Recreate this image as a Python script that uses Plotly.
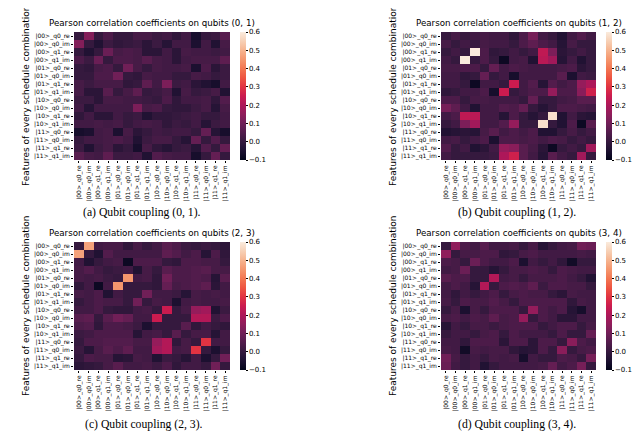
import numpy as np
import plotly.graph_objects as go

features = ["|00>_q0_re", "|00>_q0_im", "|00>_q1_re", "|00>_q1_im",
            "|01>_q0_re", "|01>_q0_im", "|01>_q1_re", "|01>_q1_im",
            "|10>_q0_re", "|10>_q0_im", "|10>_q1_re", "|10>_q1_im",
            "|11>_q0_re", "|11>_q0_im", "|11>_q1_re", "|11>_q1_im"]

# upper triangles: row i holds columns i+1..15
# (matrices are symmetric, diagonal is shown as 0)
upper_01 = [
    [0.13, 0.0, 0.04, 0.0, 0.0, 0.03, 0.03, 0.01, 0.02, -0.01, 0.02, -0.06, 0.0, 0.01, 0.06],
    [-0.04, 0.01, -0.01, 0.0, 0.01, -0.02, 0.01, -0.03, 0.02, 0.02, -0.05, 0.02, -0.04, 0.03],
    [0.09, 0.03, 0.04, 0.03, -0.02, -0.02, 0.02, -0.02, 0.03, 0.02, 0.02, 0.01, 0.02],
    [0.04, 0.04, 0.03, 0.06, 0.03, 0.02, -0.02, 0.02, 0.03, 0.03, 0.03, 0.07],
    [0.10, 0.03, 0.0, 0.03, 0.02, 0.02, 0.03, -0.05, 0.04, -0.02, 0.01],
    [-0.01, 0.03, 0.02, 0.02, 0.0, 0.0, 0.03, 0.02, 0.0, 0.01],
    [0.07, 0.02, 0.12, 0.01, 0.02, -0.02, -0.04, -0.06, 0.02],
    [0.01, 0.03, -0.04, 0.03, 0.0, 0.01, 0.03, -0.04],
    [0.04, -0.01, 0.02, 0.02, 0.03, -0.01, 0.05],
    [-0.01, -0.01, 0.01, 0.03, -0.03, 0.03],
    [0.01, 0.02, 0.0, 0.0, 0.02],
    [0.02, -0.03, 0.01, 0.02],
    [0.08, -0.03, -0.06],
    [0.05, 0.0],
    [0.08],
]

upper_12 = [
    [0.03, 0.0, 0.02, 0.03, 0.02, 0.02, -0.01, 0.04, 0.11, 0.02, 0.0, -0.04, 0.02, 0.05, 0.02],
    [0.02, 0.0, 0.03, 0.02, 0.02, 0.0, 0.04, 0.07, 0.04, 0.02, -0.03, 0.03, 0.0, 0.0],
    [0.60, 0.04, -0.01, 0.0, 0.02, 0.0, 0.02, 0.23, 0.12, -0.02, 0.0, 0.02, 0.0],
    [0.04, 0.0, -0.08, 0.02, 0.03, -0.04, 0.22, 0.18, -0.03, 0.02, -0.04, 0.0],
    [0.08, 0.02, 0.04, 0.03, 0.02, 0.02, 0.02, 0.03, 0.04, -0.02, 0.0],
    [0.02, -0.06, 0.02, 0.02, 0.02, 0.02, 0.06, -0.05, 0.02, 0.01],
    [0.25, 0.02, 0.05, -0.03, 0.05, 0.02, 0.04, 0.16, 0.20],
    [0.02, 0.04, 0.04, 0.16, 0.04, 0.04, 0.14, 0.26],
    [0.08, 0.0, 0.0, 0.02, 0.03, 0.06, 0.06],
    [-0.03, 0.0, 0.04, 0.04, 0.03, 0.02],
    [0.58, -0.04, 0.02, -0.02, -0.03],
    [-0.04, 0.04, -0.08, 0.06],
    [0.03, 0.0, 0.02],
    [0.02, 0.0],
    [0.18],
]

upper_23 = [
    [0.47, 0.02, 0.03, 0.03, -0.01, 0.03, 0.0, 0.02, 0.06, 0.04, 0.01, 0.0, 0.01, 0.0, -0.02],
    [-0.04, 0.05, 0.02, 0.02, 0.02, 0.02, 0.02, 0.07, 0.05, 0.02, 0.04, -0.03, 0.04, -0.01],
    [0.02, 0.03, -0.08, 0.04, 0.04, 0.04, 0.0, -0.01, 0.04, 0.04, 0.03, 0.03, 0.0],
    [0.01, 0.02, -0.04, 0.03, 0.0, 0.06, 0.04, 0.04, 0.05, 0.06, 0.03, 0.03],
    [0.45, 0.02, 0.03, -0.01, 0.10, 0.04, 0.04, 0.05, 0.04, -0.03, 0.06],
    [0.0, 0.0, -0.01, 0.08, 0.03, 0.04, 0.05, 0.07, -0.02, 0.02],
    [0.10, 0.02, 0.02, 0.01, -0.03, 0.03, 0.02, 0.03, 0.02],
    [0.03, 0.02, -0.05, 0.02, 0.03, 0.02, 0.02, 0.03],
    [0.25, 0.0, 0.03, 0.16, 0.18, -0.04, 0.01],
    [0.0, 0.0, 0.21, 0.21, 0.01, 0.04],
    [0.06, -0.01, 0.02, 0.0, -0.01],
    [0.03, 0.03, -0.03, 0.02],
    [0.30, 0.02, 0.02],
    [-0.05, 0.0],
    [0.10],
]

upper_34 = [
    [0.15, 0.04, 0.02, 0.06, 0.02, 0.02, 0.03, 0.0, 0.03, -0.03, 0.0, 0.02, 0.03, 0.10, 0.09],
    [0.03, 0.03, 0.04, 0.04, -0.01, 0.0, 0.03, 0.04, 0.02, 0.02, 0.02, 0.02, 0.03, 0.02],
    [0.09, 0.04, 0.02, 0.02, 0.04, -0.05, 0.02, 0.0, 0.02, -0.01, -0.07, 0.0, 0.0],
    [0.0, -0.03, 0.0, 0.03, 0.03, 0.04, 0.03, 0.0, 0.04, 0.03, 0.02, 0.02],
    [0.21, 0.02, 0.03, 0.0, 0.03, 0.03, 0.03, 0.04, 0.02, 0.0, -0.04],
    [0.04, 0.05, 0.04, 0.07, 0.01, 0.04, 0.04, 0.03, 0.03, 0.0],
    [0.03, 0.04, 0.03, 0.03, 0.0, -0.02, 0.03, 0.02, 0.02],
    [0.04, 0.04, 0.04, 0.04, 0.04, -0.01, 0.03, 0.02],
    [0.16, 0.04, 0.02, 0.04, -0.03, -0.06, 0.02],
    [0.04, 0.02, -0.02, -0.02, 0.02, 0.02],
    [0.02, 0.04, 0.04, 0.0, 0.03],
    [0.04, 0.0, 0.0, 0.08],
    [0.14, 0.04, 0.02],
    [0.03, 0.04],
    [0.11],
]

couplings = ["(0, 1)", "(1, 2)", "(2, 3)", "(3, 4)"]
letters = ["a", "b", "c", "d"]
cbar_ticks = [-0.1, 0.0, 0.1, 0.2, 0.3, 0.4, 0.5, 0.6]

# seaborn "rocket"
rocket = [[0.0, "#03051a"], [1 / 14, "#1c1030"], [1 / 7, "#35193e"], [3 / 14, "#521c4c"],
          [2 / 7, "#701f57"], [5 / 14, "#8f1d5b"], [3 / 7, "#ad1759"], [1 / 2, "#cb1b4f"],
          [4 / 7, "#e13342"], [9 / 14, "#ee5541"], [5 / 7, "#f37651"], [11 / 14, "#f5966d"],
          [6 / 7, "#f6b48f"], [13 / 14, "#f7d0b5"], [1.0, "#faebdd"]]


def full_matrix(upper):
    m = np.zeros((16, 16))
    for i, row in enumerate(upper):
        for k, v in enumerate(row):
            m[i, i + 1 + k] = v
            m[i + 1 + k, i] = v
    return m


W, H = 640, 436
px = lambda v: v / W
py = lambda v: 1 - v / H

# panel boxes in pixels: heatmap left, right, top, bottom
boxes = [(66, 222, 24, 152), (433, 588, 24, 152),
         (66, 222, 234, 362), (433, 588, 234, 362)]
caption_pos = [(134, 204), (509, 204), (136, 416), (509, 416)]

fig = go.Figure()
mats = [upper_01, upper_12, upper_23, upper_34]
tick_font = dict(family="DejaVu Sans", size=6, color="black")

for n, (up, box) in enumerate(zip(mats, boxes)):
    l, r, t, b = box
    sfx = "" if n == 0 else str(n + 1)
    fig.add_trace(go.Heatmap(
        z=full_matrix(up), x=features, y=features,
        zmin=-0.1, zmax=0.6, colorscale=rocket,
        xaxis="x" + sfx, yaxis="y" + sfx,
        colorbar=dict(x=px(r + 10), xanchor="left", y=py((t + b) / 2), yanchor="middle",
                      len=b - t, lenmode="pixels", thickness=6, outlinewidth=0,
                      tickvals=cbar_ticks, tickformat=".1f", ticks="outside",
                      ticklen=2, tickwidth=0.6, tickcolor="black",
                      tickfont=dict(family="DejaVu Sans", size=7, color="black"),
                      xpad=0, ypad=0)
    ))
    fig.update_layout(**{
        "xaxis" + sfx: dict(domain=[px(l), px(r)], anchor="y" + sfx, tickangle=-90,
                            ticks="outside", ticklen=2, tickwidth=0.6, tickcolor="black",
                            tickfont=tick_font, showgrid=False, zeroline=False),
        "yaxis" + sfx: dict(domain=[py(b), py(t)], anchor="x" + sfx, autorange="reversed",
                            ticks="outside", ticklen=2, tickwidth=0.6, tickcolor="black",
                            tickfont=tick_font, showgrid=False, zeroline=False),
    })
    fig.add_annotation(x=px((l + r) / 2), y=py(t - 2), xref="paper", yref="paper",
                       text="Pearson correlation coefficients on qubits " + couplings[n],
                       showarrow=False, xanchor="center", yanchor="bottom",
                       font=dict(family="DejaVu Sans", size=8.7, color="black"))
    fig.add_annotation(x=px(l - 48), y=py((t + b) / 2), xref="paper", yref="paper",
                       text="Features of every schedule combination", textangle=-90,
                       showarrow=False, xanchor="center", yanchor="middle",
                       font=dict(family="DejaVu Sans", size=9, color="black"))
    cx, cy = caption_pos[n]
    fig.add_annotation(x=px(cx), y=py(cy), xref="paper", yref="paper",
                       text="(" + letters[n] + ") Qubit coupling " + couplings[n] + ".",
                       showarrow=False, xanchor="center", yanchor="middle",
                       font=dict(family="Liberation Serif", size=11.7, color="black"))

fig.add_annotation(x=px(-4), y=py(433), xref="paper", yref="paper",
                   text="Fig. 5: Heatmaps showing the Pearson correlation coefficients between "
                        "each array belonging to the signal data of the four",
                   showarrow=False, xanchor="left", yanchor="middle",
                   font=dict(family="Liberation Serif", size=12, color="black"))

fig.update_layout(width=W, height=H, margin=dict(l=0, r=0, t=0, b=0),
                  paper_bgcolor="white", plot_bgcolor="white", showlegend=False)

fig.write_html("out.html")
